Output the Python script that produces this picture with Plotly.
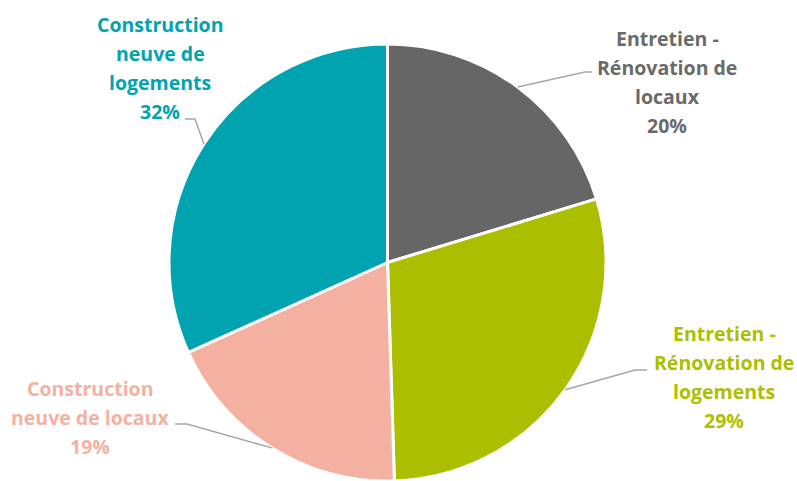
import math
import plotly.graph_objects as go

# ---- data ----
categories = [
    "Entretien - Rénovation de locaux",
    "Entretien - Rénovation de logements",
    "Construction neuve de locaux",
    "Construction neuve de logements",
]
label_lines = [
    ["Entretien -", "Rénovation de", "locaux"],
    ["Entretien -", "Rénovation de", "logements"],
    ["Construction", "neuve de locaux"],
    ["Construction", "neuve de", "logements"],
]
values = [20.3, 29.2, 18.75, 31.75]
colors = ["#666666", "#ABBF00", "#F4B1A2", "#00A3B0"]
text_colors = ["#6A6A6A", "#ABBF00", "#F4B1A2", "#00A3B0"]

# ---- layout constants (pixels) ----
W, H = 797, 481
CX, CY, R = 387.5, 262.5, 218.5
# label block: center x, y of first line (cap middle)
label_pos = [(667, 39), (724, 334), (90, 389), (160, 25)]
# elbow of leader line and end of horizontal stub
elbows = [((585, 72), (592, 72)), ((635, 370), (647, 370)),
          ((187, 424), (175, 424)), ((195, 119), (185, 119))]
LINE_SP = 29.3
FONT = "Open Sans"
FSIZE = 19.5

def px(x):
    return x / W

def py(y):
    return 1 - y / H

fig = go.Figure()
fig.add_trace(go.Pie(
    labels=categories, values=values, sort=False, direction="clockwise",
    rotation=0, textinfo="none", hoverinfo="label+percent",
    marker=dict(colors=colors, line=dict(color="white", width=3)),
    domain=dict(x=[px(CX - R), px(CX + R)], y=[py(CY + R), py(CY - R)]),
    showlegend=False,
))

total = sum(values)
annotations = []
shapes = []
cum = 0.0
for i, v in enumerate(values):
    mid = (cum + v / 2) / total * 2 * math.pi
    cum += v
    sx = CX + R * math.sin(mid)
    sy = CY - R * math.cos(mid)
    (ex, ey), (hx, hy) = elbows[i]
    shapes.append(dict(
        type="path", xref="paper", yref="paper",
        path=f"M {px(sx)},{py(sy)} L {px(ex)},{py(ey)} L {px(hx)},{py(hy)}",
        line=dict(color="#A6A6A6", width=1.5),
    ))
    lines = label_lines[i] + [f"{round(v / total * 100)}%"]
    lx, ly = label_pos[i]
    for j, t in enumerate(lines):
        annotations.append(dict(
            text=f"<b>{t}</b>", x=px(lx), y=py(ly + j * LINE_SP - 1),
            xref="paper", yref="paper", xanchor="center", yanchor="middle",
            showarrow=False, font=dict(family=FONT, size=FSIZE, color=text_colors[i]),
        ))

fig.update_layout(
    width=W, height=H, margin=dict(l=0, r=0, t=0, b=0),
    paper_bgcolor="white", plot_bgcolor="white",
    annotations=annotations, shapes=shapes,
)
fig.write_html(
    "out.html",
    config={"displayModeBar": False},
    post_script="document.body.style.margin='0';document.body.style.overflow='hidden';",
)
